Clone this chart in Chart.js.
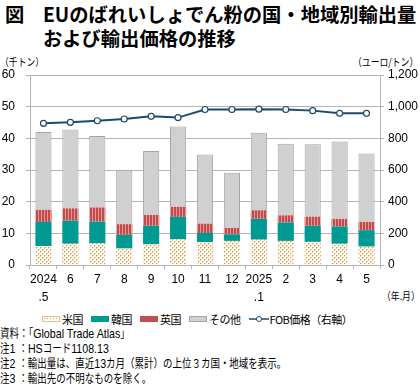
<html>
<head>
<meta charset="utf-8">
<script src="https://cdn.jsdelivr.net/npm/chart.js"></script>
<style>
  body { margin: 0; width: 420px; height: 384px; position: relative; background: #fff;
         font-family: "Noto Sans CJK JP", "Liberation Sans", sans-serif; color: #000; overflow: hidden; }
  .t { position: absolute; white-space: nowrap; }
  .title { font-size: 19.3px; font-weight: bold; line-height: 22px; }
  .unit { font-size: 10.5px; line-height: 12px; }
  .sx { transform: scaleX(0.84); transform-origin: left center; }
  .note { font-size: 12px; line-height: 14px; left: 0; transform: scaleX(0.79); transform-origin: left center; }
  .note .la { font-family: "Liberation Sans"; font-size: 13.5px; }
  #legend { position: absolute; top: 312px; left: 42px; font-size: 11px; line-height: 14px; display: flex; align-items: center; white-space: nowrap; }
  #legend span.box { display: inline-block; width: 18px; height: 6px; margin-right: 2px; vertical-align: middle; }
  #legend span.item { margin-right: 8px; display: inline-flex; align-items: center; letter-spacing: -0.5px; }
  #chart { position: absolute; left: 0; top: 55px; }
</style>
</head>
<body>
<div class="t title" style="left:5px; top:3px;">図</div>
<div class="t title" style="left:43px; top:3px;">EUのばれいしょでん粉の国・地域別輸出量</div>
<div class="t title" style="left:43px; top:27px;">および輸出価格の推移</div>
<div class="t unit sx" style="left:0px; top:56px;">（千トン）</div>
<div class="t unit sx" style="left:353px; top:56px;">（ユーロ/トン）</div>
<div class="t unit sx" style="left:382px; top:290px;">（年.月）</div>

<canvas id="chart" width="420" height="250"></canvas>

<div id="legend">
  <span class="item"><span class="box" style="background: radial-gradient(circle, #d9953f 0.7px, #fff 1px) 0 0/3px 3px; border:1px solid #e8c090; box-sizing:border-box;"></span>米国</span>
  <span class="item"><span class="box" style="background:#009a93;"></span>韓国</span>
  <span class="item"><span class="box" style="background:#c0504d;"></span>英国</span>
  <span class="item"><span class="box" style="background:#d0d0d0; border:1px solid #a8a8a8; box-sizing:border-box;"></span>その他</span>
  <span class="item"><svg width="20" height="8" style="margin-right:1px"><line x1="0" y1="4" x2="20" y2="4" stroke="#1b4a6b" stroke-width="1.5"/><circle cx="10" cy="4" r="2.5" fill="#fff" stroke="#1b4a6b" stroke-width="1"/></svg>FOB価格（右軸）</span>
</div>

<div class="t note" style="top:326px;">資料：「<span class="la">Global Trade Atlas</span>」</div>
<div class="t note" style="top:341px;">注<span class="la">1 </span>：<span class="la">HS</span>コード<span class="la">1108.13</span></div>
<div class="t note" style="top:356px;">注<span class="la">2 </span>：輸出量は、直近<span class="la">13</span>カ月（累計）の上位３カ国・地域を表示。</div>
<div class="t note" style="top:371px;">注<span class="la">3 </span>：輸出先の不明なものを除く。</div>

<script>
  // data (千トン, ユーロ/トン)
  var months = [['2024', '.5'], '6', '7', '8', '9', '10', '11', '12', ['2025', '.1'], '2', '3', '4', '5'];
  var usa    = [6.0, 6.7, 6.8, 5.2, 6.5, 8.1, 7.2, 7.6, 8.0, 7.6, 7.3, 6.7, 5.8];
  var korea  = [7.6, 7.3, 6.9, 4.3, 5.9, 7.1, 2.9, 2.1, 6.6, 5.8, 5.1, 5.5, 5.2];
  var uk     = [3.8, 3.9, 4.5, 3.4, 3.4, 3.2, 3.0, 2.0, 2.7, 2.3, 2.9, 2.4, 2.6];
  var others = [24.6, 24.9, 22.5, 17.0, 20.2, 25.3, 21.8, 17.4, 24.5, 22.6, 22.8, 24.4, 21.6];
  var fob    = [895, 901, 911, 922, 939, 931, 982, 982, 984, 982, 975, 958, 958];

  function makePattern(w, h, draw) {
    var c = document.createElement('canvas');
    c.width = w; c.height = h;
    var g = c.getContext('2d');
    draw(g);
    return g.createPattern(c, 'repeat');
  }
  var dotPattern = makePattern(4, 4, function (g) {
    g.fillStyle = '#fffcf6'; g.fillRect(0, 0, 4, 4);
    g.fillStyle = '#d8954a'; g.fillRect(0, 0, 1, 1); g.fillRect(2, 2, 1, 1);
    g.fillStyle = '#efd3ae'; g.fillRect(1, 0, 1, 1); g.fillRect(3, 2, 1, 1);
    g.fillRect(0, 1, 1, 1); g.fillRect(2, 3, 1, 1);
  });
  var stripePattern = makePattern(3, 3, function (g) {
    g.fillStyle = '#bf4b4b'; g.fillRect(0, 0, 3, 3);
    g.fillStyle = '#e39a98'; g.fillRect(2, 0, 1, 3);
  });

  var gridColor = '#b4b4b4';
  var tickFont = { family: 'Liberation Sans', size: 12, lineHeight: 1.5 };

  var ctx = document.getElementById('chart').getContext('2d');
  var myChart = new Chart(ctx, {
    data: {
      labels: months,
      datasets: [
        { type: 'line', label: 'FOB価格（右軸）', data: fob, yAxisID: 'y1', order: 0,
          borderColor: '#1b4a6b', borderWidth: 2, pointRadius: 3, pointBackgroundColor: '#fff',
          pointBorderColor: '#1b4a6b', pointBorderWidth: 1.2, tension: 0 },
        { type: 'bar', label: '米国', data: usa, backgroundColor: dotPattern, order: 1 },
        { type: 'bar', label: '韓国', data: korea, backgroundColor: '#009a93', order: 1 },
        { type: 'bar', label: '英国', data: uk, backgroundColor: stripePattern, order: 1 },
        { type: 'bar', label: 'その他', data: others, backgroundColor: '#d0d0d0',
          borderColor: '#a4a4a4', borderWidth: { top: 1, left: 1, right: 1, bottom: 0 }, order: 1 }
      ]
    },
    options: {
      responsive: false,
      animation: false,
      layout: { padding: { top: 20, left: 0, right: 0, bottom: 0 } },
      datasets: { bar: { categoryPercentage: 1, barPercentage: 0.6 } },
      plugins: { legend: { display: false }, tooltip: { enabled: false } },
      scales: {
        x: {
          stacked: true,
          offset: true,
          grid: { offset: true, drawOnChartArea: false, drawTicks: true, tickLength: 4, color: gridColor },
          border: { color: gridColor },
          ticks: { color: '#000', font: tickFont, padding: 2, maxRotation: 0, autoSkip: false },
          afterFit: function (s) { s.height = 40; }
        },
        y: {
          stacked: true,
          position: 'left',
          min: 0, max: 60,
          grid: { color: gridColor, tickLength: 4 },
          border: { color: gridColor },
          ticks: { stepSize: 10, color: '#000', font: tickFont, padding: 11 },
          afterFit: function (s) { s.width = 30; }
        },
        y1: {
          position: 'right',
          min: 0, max: 1200,
          grid: { drawOnChartArea: false, color: gridColor, tickLength: 4 },
          border: { color: gridColor },
          ticks: { stepSize: 200, color: '#000', font: tickFont, padding: 4 },
          afterFit: function (s) { s.width = 40; }
        }
      }
    }
  });
</script>
</body>
</html>
